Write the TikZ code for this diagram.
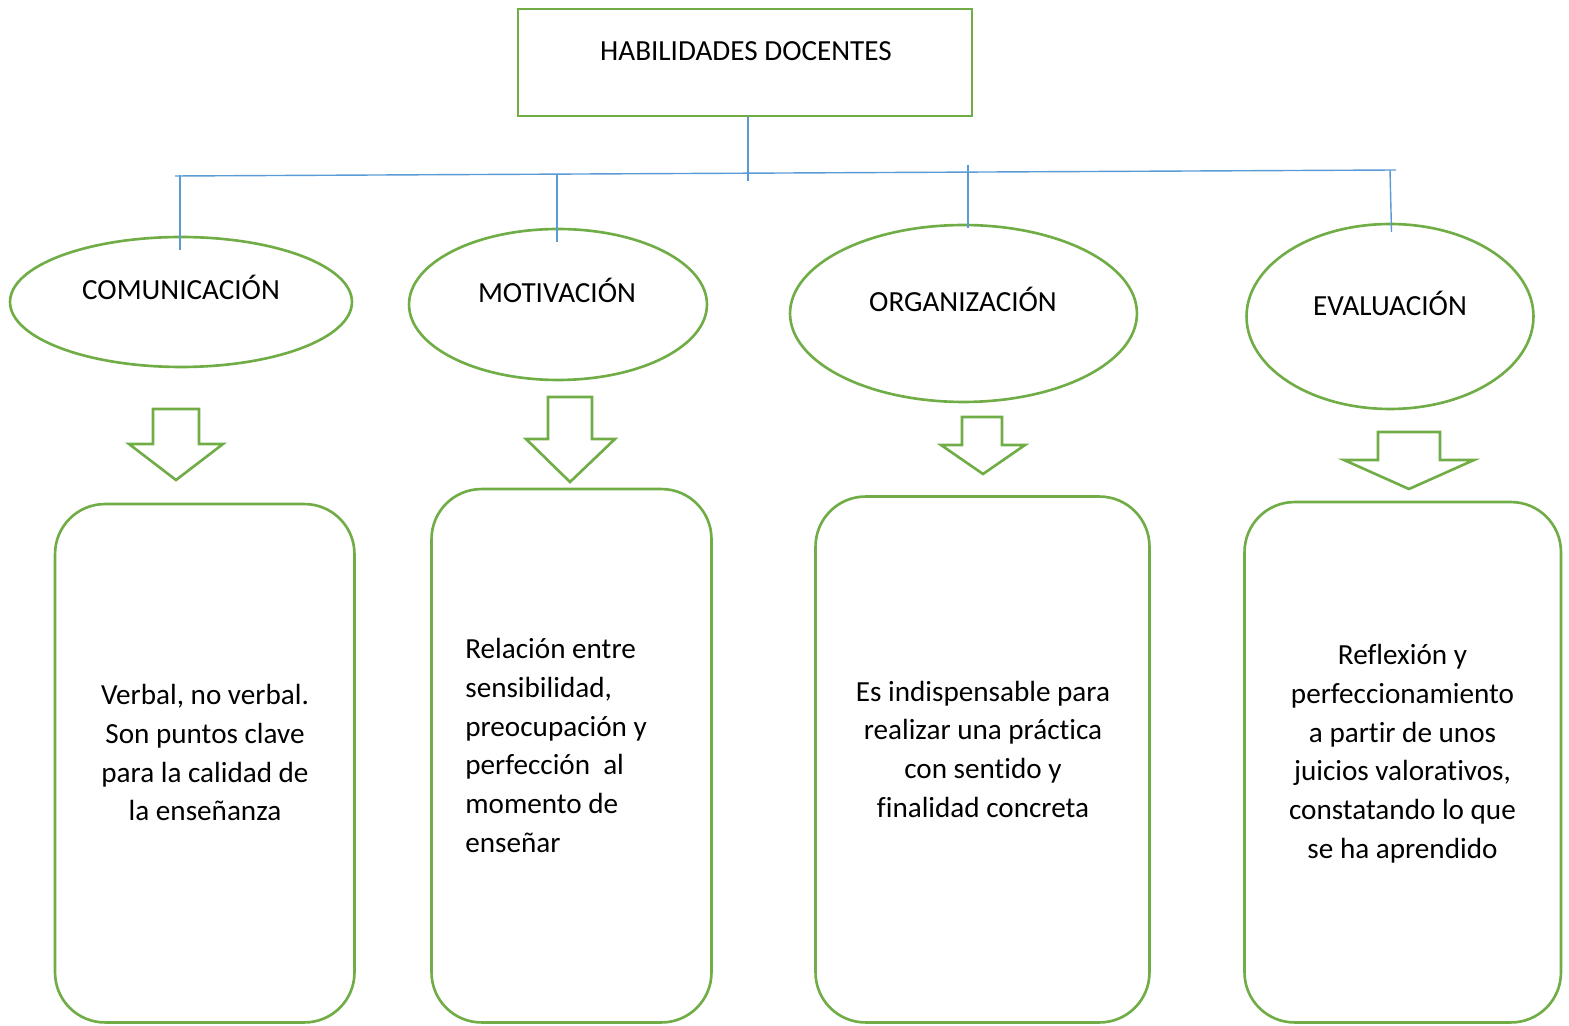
\documentclass[tikz,border=0pt]{standalone}
\usepackage{fontspec}
\setmainfont{Carlito}[Ligatures=NoCommon]
\usetikzlibrary{shapes.geometric}
\definecolor{hgreen}{HTML}{70AD47}
\definecolor{hblue}{HTML}{5B9BD5}

\begin{document}
\begin{tikzpicture}[x=0.02cm,y=-0.02cm,
  every node/.style={font=\fontsize{16.6}{22}\selectfont,inner sep=0pt},
  gline/.style={draw=hgreen,line width=1.5pt},
  bline/.style={draw=hblue,line width=0.8pt},
  skill/.style={gline,ellipse},
  note/.style={gline,rounded corners=1cm}]
  \useasboundingbox (0,0) rectangle (1569,1026);

  % title box
  \node[gline,minimum width=9.08cm,minimum height=2.14cm] (top) at (745,62.5) {};
  \node[anchor=base] (toptxt) at (746,60.3) {HABILIDADES DOCENTES};

  % the four skills
  \node[skill,minimum width=6.84cm,minimum height=2.6cm] (comu) at (181,302) {};
  \node[skill,minimum width=5.96cm,minimum height=3.02cm] (moti) at (558,304.5) {};
  \node[skill,minimum width=6.94cm,minimum height=3.54cm] (orga) at (963.5,313.5) {};
  \node[skill,minimum width=5.74cm,minimum height=3.7cm] (eval) at (1390,316.5) {};
  \node[anchor=base] (comutxt) at (181,300) {COMUNICACIÓN};
  \node[anchor=base] (mototxt) at (557,303) {MOTIVACIÓN};
  \node[anchor=base] (orgatxt) at (963,312) {ORGANIZACIÓN};
  \node[anchor=base] (evaltxt) at (1390,316) {EVALUACIÓN};

  % blue tree
  \coordinate (barL) at (175,176);
  \coordinate (barR) at (1396,170);
  \coordinate (stem) at (748,181);
  \coordinate (comuup) at (180,175.5);
  \coordinate (motiup) at (557,174);
  \coordinate (orgaup) at (968,165);
  \coordinate (evalup) at (1390,170);
  \coordinate (comudn) at (180,250);
  \coordinate (motidn) at (557,242);
  \coordinate (orgadn) at (968,228);
  \coordinate (evaldn) at (1391.5,232);
  \draw[bline] (barL) -- (barR);
  \draw[bline] (top.south -| stem) -- (stem);
  \draw[bline] (comuup) -- (comudn);
  \draw[bline] (motiup) -- (motidn);
  \draw[bline] (orgaup) -- (orgadn);
  \draw[bline] (evalup) -- (evaldn);

  % block arrows
  \draw[gline] (153,409) -- (199,409) -- (199,444) -- (223,444) -- (176,480)
    -- (129,444) -- (153,444) -- cycle;
  \draw[gline] (548,397) -- (592,397) -- (592,439) -- (615,439) -- (570,482)
    -- (526,439) -- (548,439) -- cycle;
  \draw[gline] (962,417) -- (1002,417) -- (1002,445) -- (1025,445) -- (983,474)
    -- (941,445) -- (962,445) -- cycle;
  \draw[gline] (1378,432) -- (1440,432) -- (1440,460) -- (1474,460) -- (1409,489)
    -- (1344,460) -- (1378,460) -- cycle;

  % description boxes
  \node[note,minimum width=5.99cm,minimum height=10.37cm] (comubox) at (204.75,763.25) {};
  \node[note,minimum width=5.6cm,minimum height=10.67cm] (motibox) at (571.5,755.75) {};
  \node[note,minimum width=6.68cm,minimum height=10.52cm] (orgabox) at (982.5,759.5) {};
  \node[note,minimum width=6.33cm,minimum height=10.41cm] (evalbox) at (1402.75,762.25) {};
  \node[align=center,anchor=base] (comunote) at (205,820.8)
    {Verbal, no verbal.\\Son puntos clave\\para la calidad de\\la enseñanza};
  \node[align=left,anchor=base west] (motinote) at (465,852)
    {Relación entre\\sensibilidad,\\preocupación y\\perfección \ al\\momento de\\enseñar};
  \node[align=center,anchor=base] (organote) at (983,817)
    {Es indispensable para\\realizar una práctica\\con sentido y\\finalidad concreta};
  \node[align=center,anchor=base] (evalnote) at (1402.5,858)
    {Reflexión y\\perfeccionamiento\\a partir de unos\\juicios valorativos,\\constatando lo que\\se ha aprendido};
\end{tikzpicture}
\end{document}
